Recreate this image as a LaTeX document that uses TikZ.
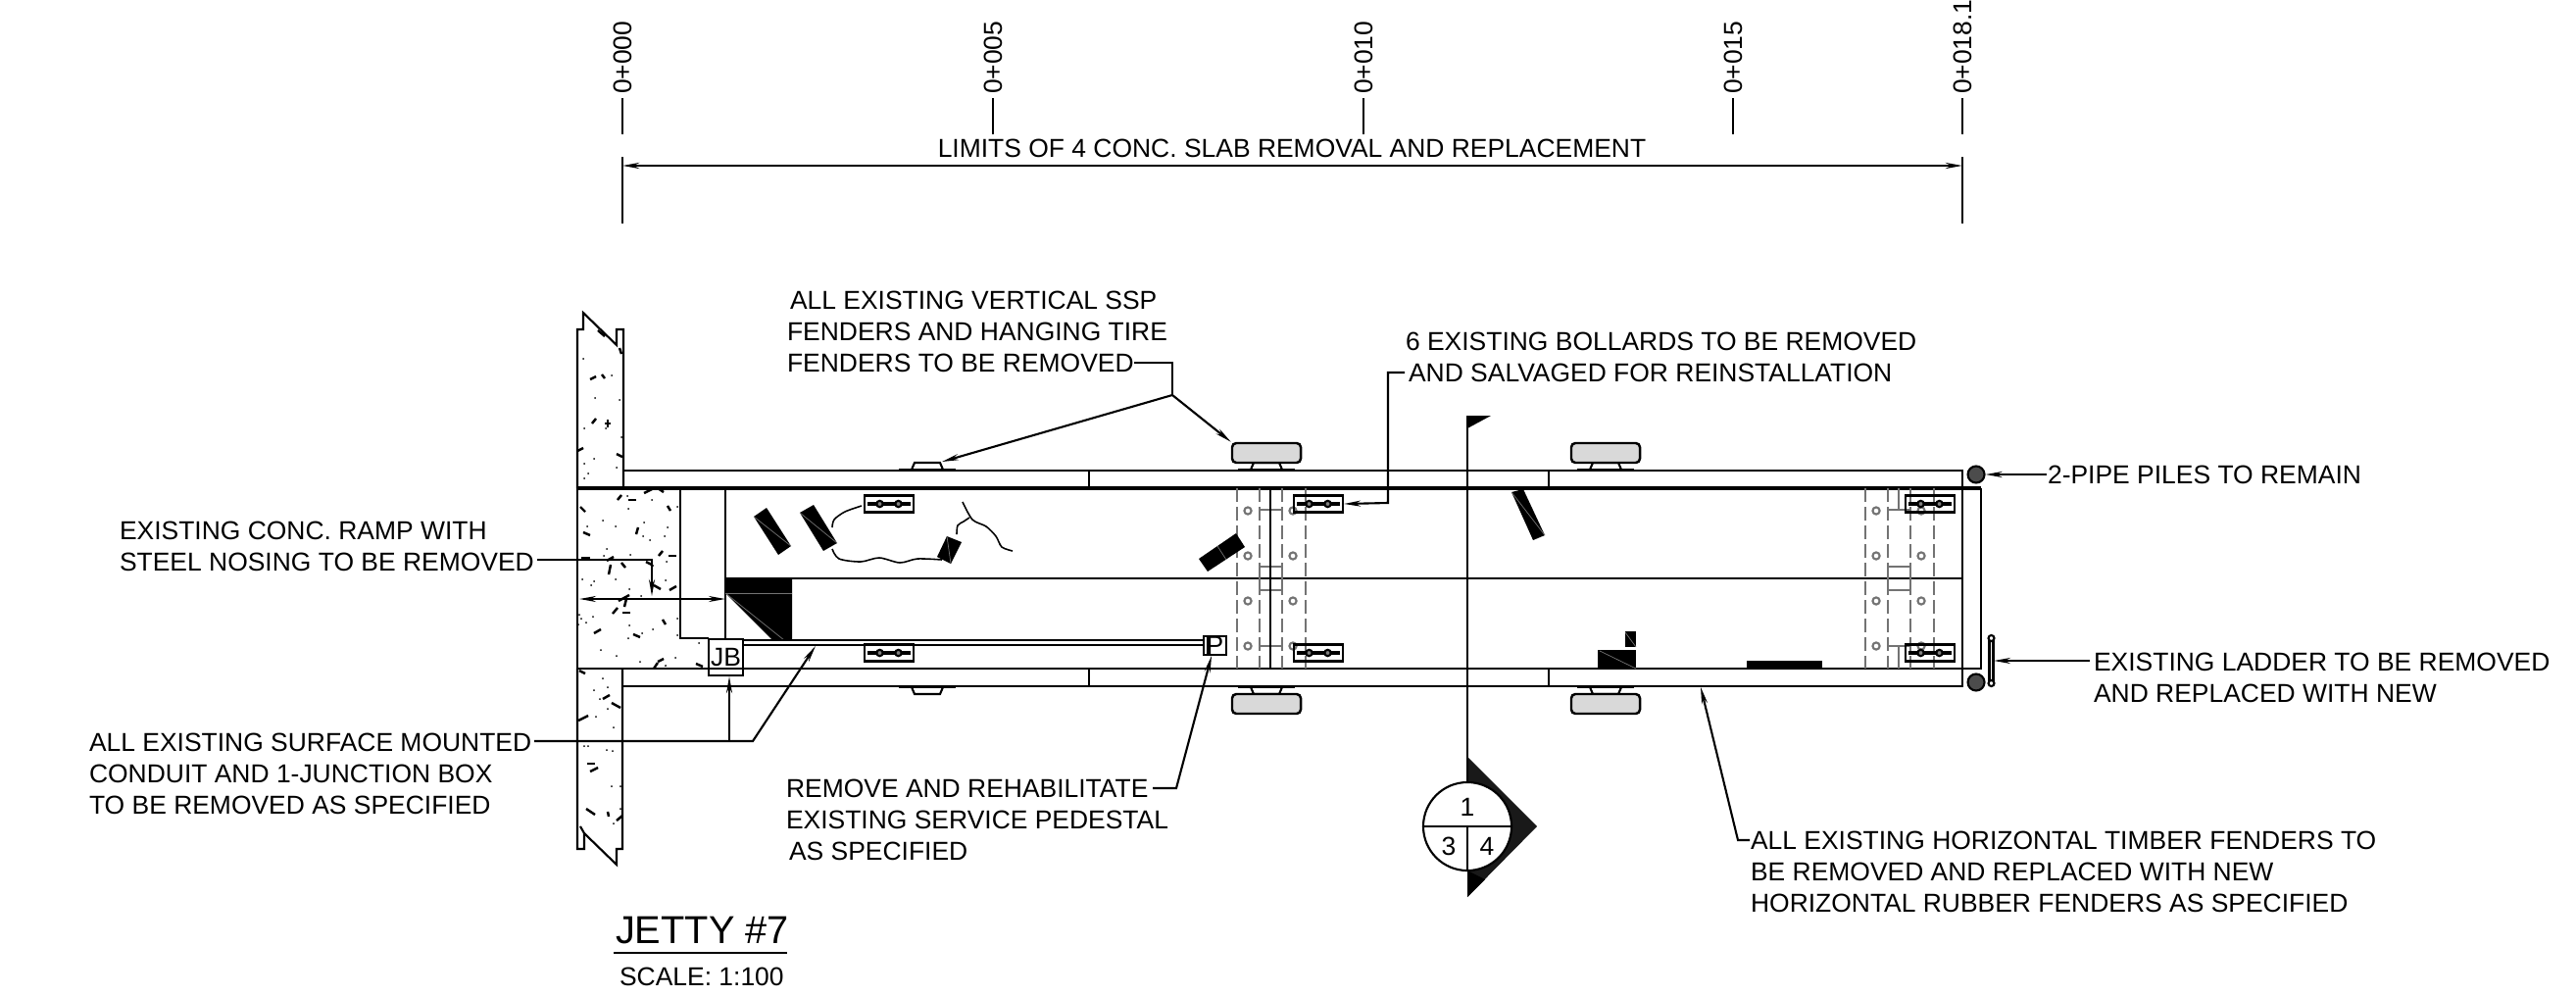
\documentclass[tikz,border=0pt]{standalone}
\usepackage{fontspec}
\setmainfont{Liberation Sans}
\usetikzlibrary{arrows.meta}
\tikzset{
	note/.style={font=\fontsize{7.52}{9.1}\selectfont, align=left, inner sep=0pt, anchor=west},
	station/.style={font=\fontsize{7.52}{9.1}\selectfont, inner sep=0pt, rotate=90, anchor=west},
	tirefender/.style={draw, rounded corners=1.2pt, fill=black!15, minimum width=0.7cm, minimum height=0.2cm, inner sep=0pt, line width=0.7pt},
	bollard/.style={draw, minimum width=0.5cm, minimum height=0.17cm, inner sep=0pt},
	boxlabel/.style={draw, font=\fontsize{7.52}{9.1}\selectfont, inner sep=0pt},
	hidden/.style={draw=black!55, dash pattern=on 0.14cm off 0.05cm},
	ladderline/.style={draw=black!55},
	bolt/.style={draw=black!55, line width=0.6pt},
	speck/.style={line width=0.7pt},
	seam/.style={draw=black!55, line width=0.2pt}
}
\begin{document}
\begin{tikzpicture}[x=0.01cm, y=-0.01cm, line width=0.6pt, >={Stealth[length=0.17cm,width=0.06cm]}]
	\useasboundingbox (0,0) rectangle (2628,1015);

	% stations and limits
	\foreach \n/\xs/\lab in {0/635/0+000, 5/1013/0+005, 10/1391/0+010, 15/1768/0+015, 18/2002/0+018.1}{
		\node[station] (st\n) at (\xs,97) {\lab};
		\draw (\xs,100) -- (\xs,137);
	}
	\coordinate (limL) at (635,169);
	\coordinate (limR) at (2002,169);
	\draw (635,160) -- (635,228);
	\draw (2002,160) -- (2002,228);
	\draw[<->, line width=0.7pt] (limL) -- (limR);
	\node[font=\fontsize{7.52}{9.1}\selectfont, inner sep=0pt] (limits) at (1318,151) {LIMITS OF 4 CONC. SLAB REMOVAL AND REPLACEMENT};

	% wall
	\draw (589,498) -- (589,336) -- (595,336) -- (595,319) -- (629,352) -- (629,336) -- (636,336) -- (636,498);
	\draw (589,682) -- (589,866) -- (596,866) -- (596,850) -- (592,843);
	\draw (596,850) -- (629,882) -- (629,866) -- (635,866) -- (635,682);
	\draw (589,498) -- (589,682);

	% jetty deck
	\draw (636,480) -- (2002,480) -- (2002,700) -- (636,700);
	\draw[line width=0.9pt] (589,498) -- (2021,498);
	\draw (589,682) -- (2021,682) -- (2021,498);
	\draw (740,590) -- (2002,590);
	\draw (694,498) -- (694,651) -- (723,651);
	\draw (740,498) -- (740,651);
	\foreach \xs in {1111,1580}{
		\draw (\xs,480) -- (\xs,498);
		\draw (\xs,682) -- (\xs,700);
	}

	% concrete
	\foreach \xa/\ya/\xb/\yb in {630/510/634/505, 641/510/649/510, 592/517/597/522, 657/503/667/498, 671/498/677/502, 681/516/684/521, 595/543/602/546, 649/545/651/538, 672/567/676/562, 682/567/690/567, 593/569/602/569, 619/572/626/568, 621/586/623/576, 634/574/638/579, 659/573/665/576, 667/597/674/601, 683/602/690/598, 631/613/642/607, 637/619/639/611, 625/626/630/620, 635/625/643/625, 676/632/679/637, 606/646/613/642, 646/647/653/650, 667/682/671/676, 671/675/677/672, 710/677/717/680, 602/387/608/384, 614/382/617/386, 632/355/634/361, 604/432/608/427, 617/432/623/432, 620/428/620/436, 589/460/595/457, 629/463/635/466, 610/337/617/343, 591/684/597/687, 615/713/622/709, 624/717/633/722, 590/735/600/730, 599/779/607/779, 602/787/610/783, 598/825/607/831, 620/828/621/833, 629/837/635/832}
		\draw[speck] (\xa,\ya) -- (\xb,\yb);
	\foreach \xs/\ys in {615/531, 599/537, 628/537, 641/519, 640/506, 665/510, 691/517, 657/533, 681/538, 656/547, 663/551, 678/547, 619/560, 616/567, 643/566, 680/573, 666/577, 594/591, 606/593, 603/597, 628/591, 642/601, 654/608, 679/592, 591/627, 593/631, 605/629, 598/635, 590/637, 691/631, 642/638, 666/642, 655/646, 641/651, 691/648, 713/656, 613/663, 629/669, 653/675, 689/671, 679/679, 595/366, 624/383, 607/406, 632/408, 596/437, 618/437, 634/446, 606/468, 596/473, 629/477, 600/483, 596/488, 615/692, 606/704, 620/701, 612/713, 620/723, 608/731, 626/742, 596/761, 600/761, 619/765, 625/766, 624/802, 633/802, 626/840, 633/825}
		\fill (\xs,\ys) circle (1);

	% fender brackets
	\foreach \xs in {946,1292,1638}{
		\draw (\xs-29,479) -- (\xs+29,479);
		\draw (\xs-16,479) -- (\xs-13,472) -- (\xs+13,472) -- (\xs+16,479);
		\draw (\xs-29,701) -- (\xs+29,701);
		\draw (\xs-16,701) -- (\xs-13,708) -- (\xs+13,708) -- (\xs+16,701);
	}
	\node[tirefender] (tireA) at (1292,462) {};
	\node[tirefender] (tireB) at (1638,462) {};
	\node[tirefender] (tireC) at (1292,718) {};
	\node[tirefender] (tireD) at (1638,718) {};

	% end ladders
	\foreach \xo/\xc in {1262/1273, 1903/1914}{
		\draw[hidden] (\xo,498) -- (\xo,682);
		\draw[hidden] (\xo+23,498) -- (\xo+23,682);
		\draw[hidden] (\xo+46,498) -- (\xo+46,682);
		\draw[hidden] (\xo+70,498) -- (\xo+70,682);
		\draw[ladderline] (\xo+23,520) -- (\xo+46,520);
		\draw[ladderline] (\xo+23,578) rectangle (\xo+46,602);
		\draw[ladderline] (\xo+23,659) -- (\xo+46,659);
		\draw[ladderline] (\xo+34,498) -- (\xo+34,520);
		\draw[ladderline] (\xo+34,659) -- (\xo+34,682);
		\foreach \ys in {521,567,613,659}{
			\draw[bolt] (\xc,\ys) circle (3.6);
			\draw[bolt] (\xc+46,\ys) circle (3.6);
		}
	}
	\draw (1296,498) -- (1296,682);

	% bollards
	\foreach \n/\xs/\ys in {a/907/514, b/907/666, c/1345/514, d/1345/666, e/1969/514, f/1969/666}{
		\node[bollard] (boll\n) at (\xs,\ys) {};
		\draw[line width=1pt] (\xs-22,\ys) -- (\xs+22,\ys);
		\filldraw[fill=black!50] (\xs-9.5,\ys) circle (3.2);
		\filldraw[fill=black!50] (\xs+9.5,\ys) circle (3.2);
	}

	% items on deck
	\fill (740,590) -- (808,590) -- (808,653) -- (788,653) -- (740,605) -- cycle;
	\draw[seam] (740,605) -- (808,605);
	\draw[seam] (740,605) -- (800,653);
	\fill (769,527) -- (782,518) -- (807,557) -- (794,566) -- cycle;
	\draw[seam] (769,527) -- (807,557);
	\fill (816,523) -- (830,515) -- (854,554) -- (840,562) -- cycle;
	\draw[seam] (816,523) -- (854,554);
	\fill (966,547) -- (981,553) -- (970,575) -- (956,568) -- cycle;
	\draw[seam] (966,547) -- (970,575);
	\fill (1223,570) -- (1261,544) -- (1270,558) -- (1232,583) -- cycle;
	\draw[seam] (1242,557) -- (1251,571);
	\fill (1542,502) -- (1554,499) -- (1576,546) -- (1564,551) -- cycle;
	\draw[seam] (1542,502) -- (1576,546);
	\fill (1630,663) rectangle (1669,683);
	\draw[seam] (1632,664) -- (1669,682);
	\fill (1658,644) rectangle (1669,660);
	\draw[seam] (1658,645) -- (1669,660);
	\fill (1782,674) rectangle (1859,683);
	\draw[line width=0.45pt] plot[smooth] coordinates {(879,516) (862,522) (851,530) (849,538)};
	\draw[line width=0.45pt] plot[smooth] coordinates {(849,560) (856,570) (878,573) (897,569) (918,574) (936,570) (961,571)};
	\draw[line width=0.45pt] plot[smooth] coordinates {(976,545) (977,536) (983,532) (989,528)};
	\draw[line width=0.45pt] plot[smooth] coordinates {(982,512) (992,530) (1006,537) (1016,547) (1022,558) (1033,562)};

	% junction box and pedestal
	\node[boxlabel, minimum width=0.35cm, minimum height=0.37cm, fill=white] (jbbox) at (740.5,670.5) {JB};
	\draw (723,682) -- (758,682);
	\node[boxlabel, minimum width=0.23cm, minimum height=0.19cm] (pbox) at (1239.5,658.5) {P};
	\draw (1232,649) -- (1232,668);
	\draw (jbbox.east |- 0,653) -- (pbox.west |- 0,653);
	\draw (jbbox.east |- 0,658) -- (pbox.west |- 0,658);

	% piles and ladder
	\node[circle, draw, fill=black!70, minimum size=0.17cm, inner sep=0pt] (pileA) at (2016,484) {};
	\node[circle, draw, fill=black!70, minimum size=0.17cm, inner sep=0pt] (pileB) at (2016,696) {};
	\draw (2029.5,651) -- (2029.5,697);
	\draw (2033.5,651) -- (2033.5,697);
	\filldraw[fill=white] (2031.5,651) circle (3);
	\filldraw[fill=white] (2031.5,697) circle (3);
	\coordinate (ladder) at (2034,674);

	% section mark
	\coordinate (flagtop) at (1497,424);
	\fill (flagtop) -- (1521,424) -- (1497,437) -- cycle;
	\fill[black!90] (1497,772) -- (1568,843) -- (1497,915) -- cycle;
	\node[circle, draw, fill=white, minimum size=0.9cm, inner sep=0pt, line width=0.6pt] (seccircle) at (1497,843) {};
	\draw (flagtop) -- (seccircle.north);
	\draw (seccircle.west) -- (seccircle.east);
	\draw (seccircle.center) -- (seccircle.south);
	\fill (1497,888) -- (1497,915) -- (1515,897) -- cycle;
	\node[font=\fontsize{7.52}{9.1}\selectfont, inner sep=0pt] (secA) at (1497,823) {1};
	\node[font=\fontsize{7.52}{9.1}\selectfont, inner sep=0pt] (secB) at (1478,863) {3};
	\node[font=\fontsize{7.52}{9.1}\selectfont, inner sep=0pt] (secC) at (1517,863) {4};

	% notes
	\node[note] (fendnote) at (802,338) {\hspace{0.03cm}ALL EXISTING VERTICAL SSP\\FENDERS AND HANGING TIRE\\FENDERS TO BE REMOVED};
	\node[note] (bollnote) at (1433,364) {6 EXISTING BOLLARDS TO BE REMOVED\\\hspace{0.03cm}AND SALVAGED FOR REINSTALLATION};
	\node[note] (pilenote) at (2088,484) {2-PIPE PILES TO REMAIN};
	\node[note] (rampnote) at (121,557) {EXISTING CONC. RAMP WITH\\STEEL NOSING TO BE REMOVED};
	\node[note] (condnote) at (90,789) {ALL EXISTING SURFACE MOUNTED\\CONDUIT AND 1-JUNCTION BOX\\TO BE REMOVED AS SPECIFIED};
	\node[note] (pednote) at (801,836) {REMOVE AND REHABILITATE\\EXISTING SERVICE PEDESTAL\\\hspace{0.03cm}AS SPECIFIED};
	\node[note] (laddnote) at (2135,691) {EXISTING LADDER TO BE REMOVED\\AND REPLACED WITH NEW};
	\node[note] (timbnote) at (1785,889) {ALL EXISTING HORIZONTAL TIMBER FENDERS TO\\BE REMOVED AND REPLACED WITH NEW\\HORIZONTAL RUBBER FENDERS AS SPECIFIED};

	% leaders
	\coordinate (fendtail) at (1157,370);
	\coordinate (fendelbow) at (1196,403);
	\coordinate (smallfend) at (961,471);
	\draw (fendtail) -- (1196,370) -- (fendelbow);
	\draw[->] (fendelbow) -- (smallfend);
	\draw[->] (fendelbow) -- (tireA.north west);
	\coordinate (bolltail) at (1433,380);
	\draw[->] (bolltail) -- (1416,380) -- (1416,513) -- (bollc.east);
	\draw[->] (pilenote.west) -- (pileA.east);
	\coordinate (ramptail) at (548,571);
	\draw[->] (ramptail) -- (665,571) -- (665,608);
	\draw[<->] (591,611) -- (740,611);
	\coordinate (condtail) at (545,756);
	\coordinate (jbtap) at (744,756);
	\coordinate (condhit) at (832,659);
	\draw[->] (condtail) -- (768,756) -- (condhit);
	\draw[->] (jbtap) -- (jbtap |- jbbox.south);
	\coordinate (pedtail) at (1176,804);
	\draw[->] (pedtail) -- (1200,804) -- (1236,669);
	\draw[->] (2132,674) -- (ladder);
	\coordinate (timbtail) at (1785,857);
	\coordinate (timbhit) at (1735,701);
	\draw[->] (timbtail) -- (1773,857) -- (timbhit);

	% title
	\node[font=\fontsize{11.3}{12}\selectfont, inner sep=0pt, anchor=west] (title) at (627,949) {JETTY \#7};
	\coordinate (titleL) at (626,972);
	\coordinate (titleR) at (803,972);
	\draw[line width=0.8pt] (titleL) -- (titleR);
	\node[note] (scale) at (631,996) {SCALE: 1:100};
\end{tikzpicture}
\end{document}
